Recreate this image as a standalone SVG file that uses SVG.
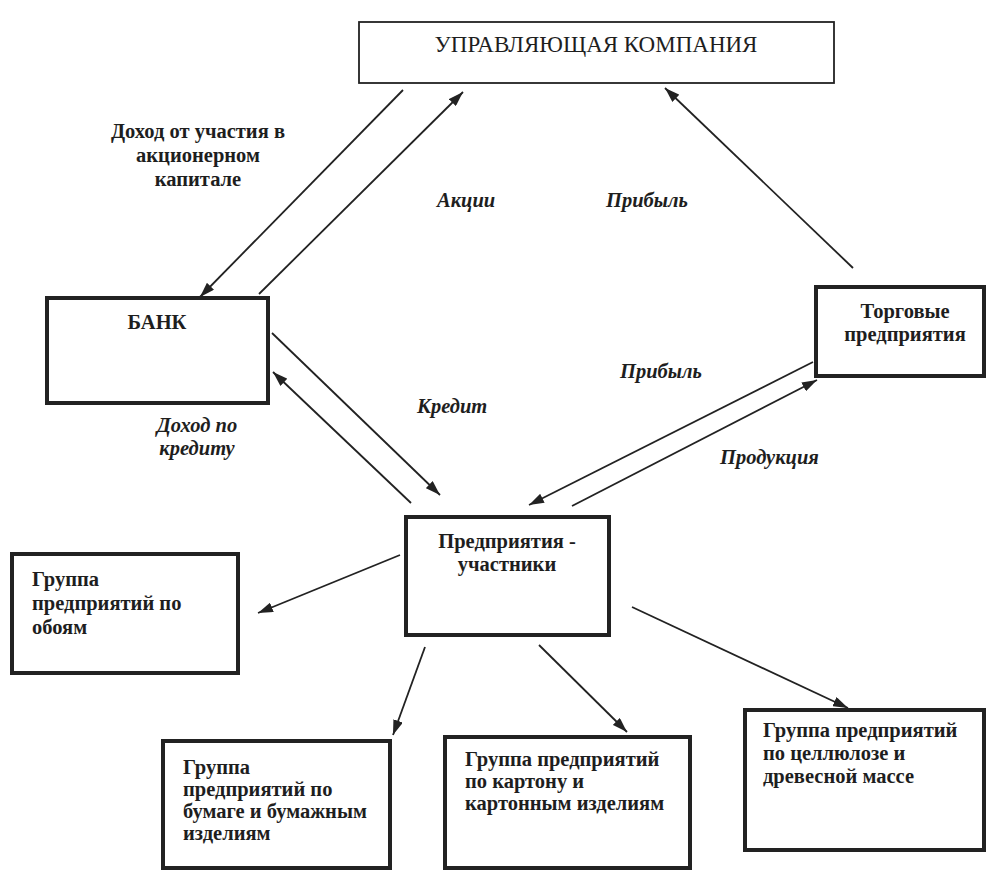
<svg xmlns="http://www.w3.org/2000/svg" width="986" height="872" viewBox="0 0 986 872">
<style>
.box{fill:#fff;stroke:#222;stroke-width:4}
.thin{fill:#fff;stroke:#222;stroke-width:1.8}
.t{font-family:"Liberation Serif","Times New Roman",serif;font-weight:bold;font-size:20.5px;fill:#1e1e1e}
.r{font-family:"Liberation Serif","Times New Roman",serif;font-size:23px;fill:#1e1e1e}
.i{font-family:"Liberation Serif","Times New Roman",serif;font-weight:bold;font-style:italic;font-size:20.5px;fill:#1e1e1e}
.c{text-anchor:middle}
.ln{stroke:#222;stroke-width:1.8;fill:none;marker-end:url(#ah)}
</style>
<defs>
<marker id="ah" markerUnits="userSpaceOnUse" markerWidth="16" markerHeight="10" refX="15" refY="5" orient="auto">
<path d="M0,0 L15,5 L0,10 z" fill="#222"/>
</marker>
</defs>
<rect width="986" height="872" fill="#fff"/>
<g id="uk">
<rect class="thin" x="359" y="22" width="475" height="61"/>
<text class="r c" x="596" y="52">УПРАВЛЯЮЩАЯ КОМПАНИЯ</text>
</g>
<g id="bank">
<rect class="box" x="47" y="298" width="221" height="105"/>
<text class="t c" x="157" y="329">БАНК</text>
</g>
<g id="torg">
<rect class="box" x="816" y="287" width="168" height="89"/>
<text class="t c" x="905" y="318">Торговые</text>
<text class="t c" x="905" y="341">предприятия</text>
</g>
<g id="pred">
<rect class="box" x="406" y="517" width="203" height="118"/>
<text class="t c" x="507" y="548">Предприятия -</text>
<text class="t c" x="507" y="571">участники</text>
</g>
<g id="oboi">
<rect class="box" x="12" y="554" width="226" height="119"/>
<text class="t" x="32" y="586">Группа</text>
<text class="t" x="32" y="610">предприятий по</text>
<text class="t" x="32" y="634">обоям</text>
</g>
<g id="bumaga">
<rect class="box" x="163" y="741" width="227" height="127"/>
<text class="t" x="183" y="774">Группа</text>
<text class="t" x="183" y="796">предприятий по</text>
<text class="t" x="183" y="818">бумаге и бумажным</text>
<text class="t" x="183" y="840">изделиям</text>
</g>
<g id="karton">
<rect class="box" x="445" y="737" width="245" height="131"/>
<text class="t" x="465" y="766">Группа предприятий</text>
<text class="t" x="465" y="788">по картону и</text>
<text class="t" x="465" y="810">картонным изделиям</text>
</g>
<g id="cell">
<rect class="box" x="745" y="710" width="239" height="140"/>
<text class="t" x="763" y="737">Группа предприятий</text>
<text class="t" x="763" y="760">по целлюлозе и</text>
<text class="t" x="763" y="783">древесной массе</text>
</g>
<g id="connectors">
<line class="ln" x1="403" y1="90" x2="200" y2="297"/>
<line class="ln" x1="259" y1="294" x2="463" y2="92"/>
<line class="ln" x1="853" y1="268" x2="665" y2="88"/>
<line class="ln" x1="272" y1="333" x2="440" y2="495"/>
<line class="ln" x1="411" y1="503" x2="273" y2="372"/>
<line class="ln" x1="813" y1="362" x2="529" y2="505"/>
<line class="ln" x1="572" y1="506" x2="817" y2="380"/>
<line class="ln" x1="400" y1="555" x2="258" y2="613"/>
<line class="ln" x1="425" y1="647" x2="393" y2="735"/>
<line class="ln" x1="539" y1="645" x2="627" y2="732"/>
<line class="ln" x1="632" y1="607" x2="848" y2="708"/>
</g>
<g id="labels">
<text class="t c" x="198" y="138">Доход от участия в</text>
<text class="t c" x="198" y="162">акционерном</text>
<text class="t c" x="198" y="186">капитале</text>
<text class="i" x="437" y="207">Акции</text>
<text class="i" x="606" y="207">Прибыль</text>
<text class="i" x="620" y="378">Прибыль</text>
<text class="i" x="417" y="413">Кредит</text>
<text class="i c" x="197" y="432">Доход по</text>
<text class="i c" x="197" y="455">кредиту</text>
<text class="i" x="720" y="464">Продукция</text>
</g>
</svg>
